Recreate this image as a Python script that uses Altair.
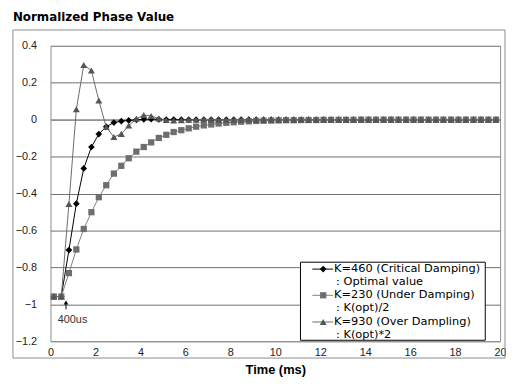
import altair as alt
import pandas as pd

# ---------------- data ----------------
time_ms = [0.15, 0.48, 0.82, 1.15, 1.48, 1.82, 2.15, 2.48, 2.82, 3.15,
           3.48, 3.82, 4.15, 4.48, 4.82, 5.15, 5.48, 5.82, 6.15, 6.48,
           6.82, 7.15, 7.48, 7.82, 8.15, 8.48, 8.82, 9.15, 9.48, 9.82,
           10.15, 10.48, 10.82, 11.15, 11.48, 11.82, 12.15, 12.48, 12.82, 13.15,
           13.48, 13.82, 14.15, 14.48, 14.82, 15.15, 15.48, 15.82, 16.15, 16.48,
           16.82, 17.15, 17.48, 17.82, 18.15, 18.48, 18.82, 19.15, 19.48, 19.82]

critical = [-0.958, -0.958, -0.706, -0.455, -0.264, -0.148, -0.078, -0.038, -0.016, -0.008,
            -0.004, -0.001, 0.002, 0.003, 0.002, 0.001, 0.001, 0.0, 0.0, 0.0,
            0.0, 0.0, 0.0, 0.0, 0.0, 0.0, 0.0, 0.0, 0.0, 0.0,
            0.0, 0.0, 0.0, 0.0, 0.0, 0.0, 0.0, 0.0, 0.0, 0.0,
            0.0, 0.0, 0.0, 0.0, 0.0, 0.0, 0.0, 0.0, 0.0, 0.0,
            0.0, 0.0, 0.0, 0.0, 0.0, 0.0, 0.0, 0.0, 0.0, 0.0]

under = [-0.958, -0.958, -0.831, -0.703, -0.592, -0.501, -0.420, -0.355, -0.292, -0.250,
         -0.209, -0.173, -0.148, -0.123, -0.099, -0.082, -0.067, -0.057, -0.047, -0.038,
         -0.031, -0.026, -0.021, -0.017, -0.014, -0.011, -0.009, -0.007, -0.006, -0.005,
         -0.004, -0.003, -0.003, -0.002, -0.002, -0.002, -0.001, -0.001, -0.001, -0.001,
         -0.001, 0.0, 0.0, 0.0, 0.0, 0.0, 0.0, 0.0, 0.0, 0.0,
         0.0, 0.0, 0.0, 0.0, 0.0, 0.0, 0.0, 0.0, 0.0, 0.0]

over = [-0.958, -0.958, -0.457, 0.056, 0.296, 0.266, 0.104, -0.040, -0.094, -0.077,
        -0.032, 0.005, 0.025, 0.020, 0.006, -0.002, -0.004, -0.003, -0.001, 0.0,
        0.001, 0.001, 0.0, 0.0, 0.0, 0.0, 0.0, 0.0, 0.0, 0.0,
        0.0, 0.0, 0.0, 0.0, 0.0, 0.0, 0.0, 0.0, 0.0, 0.0,
        0.0, 0.0, 0.0, 0.0, 0.0, 0.0, 0.0, 0.0, 0.0, 0.0,
        0.0, 0.0, 0.0, 0.0, 0.0, 0.0, 0.0, 0.0, 0.0, 0.0]

series_names = ["K=460 (Critical Damping)", "K=230 (Under Damping)", "K=930 (Over Dampling)"]
series_notes = [": Optimal value", ": K(opt)/2", ": K(opt)*2"]
series_values = [critical, under, over]
series_shapes = ["diamond", "square", "triangle-up"]
line_colors = ["#000000", "#808080", "#6a6a6a"]
marker_colors = ["#000000", "#6e6e6e", "#555555"]
marker_sizes = [46, 40, 50]

x_ticks = [0, 2, 4, 6, 8, 10, 12, 14, 16, 18, 20]
y_ticks = [-1.2, -1.0, -0.8, -0.6, -0.4, -0.2, 0.0, 0.2, 0.4]

annot_text = "400us"
annot_arrow_t = 0.69
annot_arrow_v = [-1.027, -0.99]
annot_text_t = 0.98
annot_text_v = -1.086

chart_title = "Normalized Phase Value"
x_title = "Time (ms)"

FONT = "Liberation Sans"
LEGEND_FONT = "DejaVu Sans"

# ---------------- chart ----------------
x_scale = alt.Scale(domain=[0, 20], nice=False, zero=False)
y_scale = alt.Scale(domain=[-1.2, 0.4], nice=False, zero=False)

x_axis = alt.Axis(values=x_ticks, grid=False, ticks=False, domain=False,
                  labelPadding=5, labelFontSize=11, labelFont=FONT, labelColor="#222222",
                  labelFlush=False, labelOverlap=False,
                  title=x_title, titleFont=FONT, titleFontSize=13,
                  titleFontWeight="bold", titleColor="#000000", titlePadding=7)
y_axis = alt.Axis(values=y_ticks, grid=True, ticks=False, domain=False,
                  gridColor={"condition": {"test": "datum.value > 0.3 || datum.value < -1.1",
                                           "value": "#8c8c8c"},
                             "value": "#6f6f6f"},
                  labelPadding=14, labelFontSize=11, labelFont=FONT, labelColor="#222222",
                  labelFlush=False, labelOverlap=False, format="~g", title=None)


def X(field):
    return alt.X(field, scale=x_scale, axis=x_axis)


def Y(field):
    return alt.Y(field, scale=y_scale, axis=y_axis)


frames = []
for name, vals in zip(series_names, series_values):
    frames.append(pd.DataFrame({"t": time_ms, "v": vals, "series": name}))
df = pd.concat(frames, ignore_index=True)

layers = []

# first layer carries both axes (invisible points)
layers.append(alt.Chart(df).mark_point(opacity=0).encode(x=X("t:Q"), y=Y("v:Q")))

# zero line (the x axis line of the original)
layers.append(alt.Chart(pd.DataFrame({"v": [0.0]})).mark_rule(
    color="#a6a6a6", strokeWidth=1.5).encode(y=Y("v:Q")))

for i, name in enumerate(series_names):
    sub = df[df["series"] == name]
    layers.append(alt.Chart(sub).mark_line(color=line_colors[i], strokeWidth=1).encode(
        x=X("t:Q"), y=Y("v:Q")))
    layers.append(alt.Chart(sub).mark_point(shape=series_shapes[i], filled=True, opacity=1,
                                            color=marker_colors[i], size=marker_sizes[i]).encode(
        x=X("t:Q"), y=Y("v:Q")))

# 400us annotation
arrow_df = pd.DataFrame({"t": [annot_arrow_t], "v1": [annot_arrow_v[0]], "v2": [annot_arrow_v[1]]})
layers.append(alt.Chart(arrow_df).mark_rule(color="#000000", strokeWidth=1).encode(
    x=X("t:Q"), y=Y("v1:Q"), y2="v2:Q"))
layers.append(alt.Chart(arrow_df).mark_point(shape="triangle-up", filled=True, opacity=1,
                                             color="#000000", size=22).encode(
    x=X("t:Q"), y=Y("v2:Q")))
layers.append(alt.Chart(pd.DataFrame({"t": [annot_text_t], "v": [annot_text_v], "txt": [annot_text]}))
              .mark_text(font=FONT, fontSize=11, color="#333333", align="center", baseline="middle")
              .encode(x=X("t:Q"), y=Y("v:Q"), text="txt:N"))

# legend box (pixel positions within the plot area)
one = pd.DataFrame({"k": [0]})
layers.append(alt.Chart(one).mark_rect(fill="white", stroke="#000000", strokeWidth=1).encode(
    x=alt.value(253), x2=alt.value(440), y=alt.value(219), y2=alt.value(298)))
row_y = [226, 252.5, 279.5]
for i, name in enumerate(series_names):
    yy = row_y[i]
    layers.append(alt.Chart(one).mark_rule(color=line_colors[i], strokeWidth=1).encode(
        x=alt.value(265), x2=alt.value(286), y=alt.value(yy)))
    layers.append(alt.Chart(one).mark_point(shape=series_shapes[i], filled=True, opacity=1,
                                            color=marker_colors[i], size=marker_sizes[i]).encode(
        x=alt.value(276), y=alt.value(yy)))
    layers.append(alt.Chart(pd.DataFrame({"txt": [name]})).mark_text(
        font=LEGEND_FONT, fontSize=11.5, color="#000000", align="left", baseline="middle").encode(
        x=alt.value(287), y=alt.value(yy), text="txt:N"))
    layers.append(alt.Chart(pd.DataFrame({"txt": [series_notes[i]]})).mark_text(
        font=LEGEND_FONT, fontSize=11.5, color="#000000", align="left", baseline="middle").encode(
        x=alt.value(289), y=alt.value(yy + 13), text="txt:N"))

# outer chart border and chart title (outside the plot area)
layers.append(alt.Chart(one).mark_rect(fill=None, stroke="#8c8c8c", strokeWidth=1).encode(
    x=alt.value(-38), x2=alt.value(460), y=alt.value(-16), y2=alt.value(316)))
layers.append(alt.Chart(pd.DataFrame({"txt": [chart_title]})).mark_text(
    font="DejaVu Sans", fontSize=12, fontWeight="bold", color="#000000",
    align="left", baseline="alphabetic").encode(
    x=alt.value(-38), y=alt.value(-25), text="txt:N"))

chart = alt.layer(*layers).properties(
    width=455, height=299,
    autosize=alt.AutoSizeParams(type="none"),
    padding={"left": 43, "top": 36, "right": 6, "bottom": 40},
    background="white",
).configure_view(stroke="#8c8c8c", strokeWidth=1)

chart.save("out.html", embed_options={"renderer": "svg", "actions": False})
